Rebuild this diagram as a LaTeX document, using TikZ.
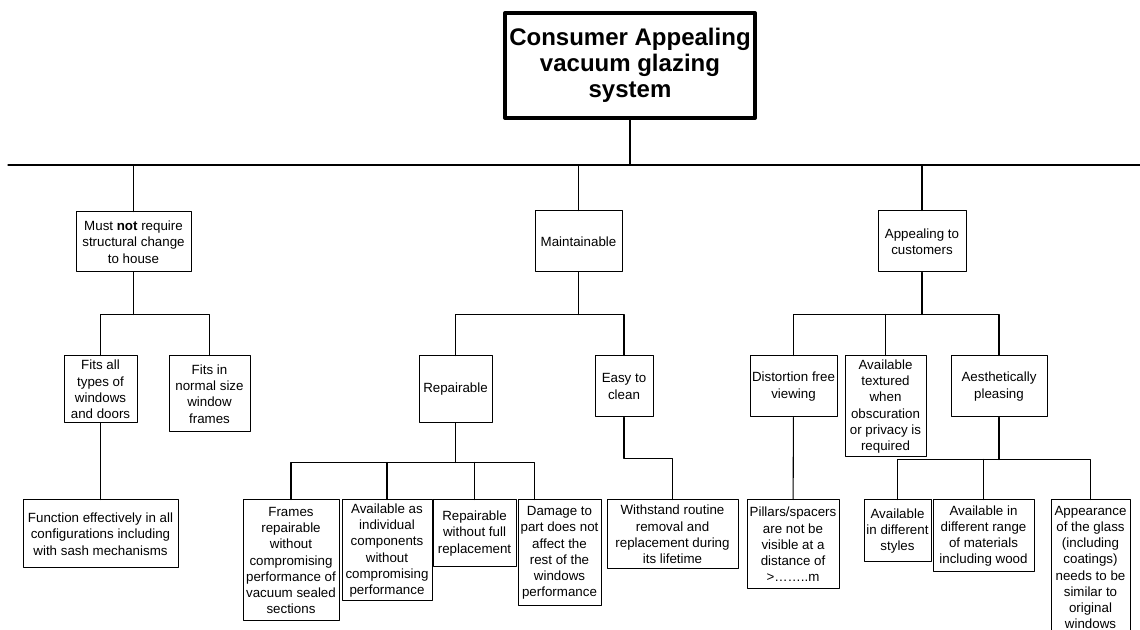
\documentclass[tikz,border=0pt]{standalone}
\usepackage{fontspec}
\setmainfont{Liberation Sans}
\begin{document}
\begin{tikzpicture}[x=0.75pt, y=-0.75pt, font=\fontsize{10}{12.2}\selectfont, line join=round, line cap=round,
	box/.style={draw, line width=0.75pt, align=center, inner sep=0pt},
	goal/.style={draw, line width=3pt, align=center, inner sep=0pt, font=\fontsize{18}{19.6}\selectfont\bfseries},
	link/.style={line width=0.8pt}]
	\useasboundingbox (0,0) rectangle (1140,630);
	% top of the tree
	\node[goal, minimum width=187.5pt, minimum height=78.75pt] (top) at (630,65.5) {Consumer Appealing\\vacuum glazing\\system};
	\coordinate (busL) at (8,165);
	\coordinate (busR) at (1140,165);
	% first level
	\node[box, minimum width=86.25pt, minimum height=45pt] (house) at (133.5,242) {Must \textbf{not} require\\structural change\\to house};
	\node[box, minimum width=65.25pt, minimum height=45.75pt] (maint) at (578.5,241.5) {Maintainable};
	\node[box, minimum width=66pt, minimum height=45.75pt] (appeal) at (922,241.5) {Appealing to\\customers};
	% second level
	\node[box, minimum width=54.75pt, minimum height=50.25pt] (fitall) at (100.5,389.5) {Fits all\\types of\\windows\\and doors};
	\node[box, minimum width=60.75pt, minimum height=57pt] (fitsize) at (209.5,394) {Fits in\\normal size\\window\\frames};
	\node[box, minimum width=54.75pt, minimum height=50.25pt] (repair) at (455.5,389.5) {Repairable};
	\node[box, minimum width=43.5pt, minimum height=45.75pt] (clean) at (624,386.5) {Easy to\\clean};
	\node[box, minimum width=65.25pt, minimum height=45.75pt] (distort) at (793.5,386.5) {Distortion free\\viewing};
	\node[box, minimum width=60.75pt, minimum height=75.75pt] (texture) at (885.5,406.5) {Available\\textured\\when\\obscuration\\or privacy is\\required};
	\node[box, minimum width=72pt, minimum height=45.75pt] (pleasing) at (999,386.5) {Aesthetically\\pleasing};
	% third level
	\node[box, minimum width=116.25pt, minimum height=51pt] (config) at (100.5,534) {Function effectively in all\\configurations including\\with sash mechanisms};
	\node[box, minimum width=72pt, minimum height=90.75pt] (frames) at (291,560.5) {Frames\\repairable\\without\\compromising\\performance of\\vacuum sealed\\sections};
	\node[box, minimum width=67.5pt, minimum height=75.75pt] (parts) at (387,550.5) {Available as\\individual\\components\\without\\compromising\\performance};
	\node[box, minimum width=62.25pt, minimum height=50.25pt] (nofull) at (474.5,533.5) {Repairable\\without full\\replacement};
	\node[box, minimum width=62.25pt, minimum height=79.5pt] (damage) at (559.5,553) {Damage to\\part does not\\affect the\\rest of the\\windows\\performance};
	\node[box, minimum width=98.25pt, minimum height=51.75pt] (routine) at (672.5,534.5) {Withstand routine\\removal and\\replacement during\\its lifetime};
	\node[box, minimum width=69pt, minimum height=66.75pt] (pillars) at (793,544.5) {Pillars/spacers\\are not be\\visible at a\\distance of\\>……..m};
	\node[box, minimum width=50.25pt, minimum height=46.5pt] (styles) at (897.5,531) {Available\\in different\\styles};
	\node[box, minimum width=75.75pt, minimum height=54pt] (material) at (983.5,536) {Available in\\different range\\of materials\\including wood};
	\node[box, minimum width=59.25pt, minimum height=101.25pt] (glass) at (1090.5,567.5) {Appearance\\of the glass\\(including\\coatings)\\needs to be\\similar to\\original\\windows};
	% connectors
	\draw[link] (busL) -- (busR);
	\draw[link] (top) -- (top |- busL);
	\draw[link] (house) -- (house |- busL);
	\draw[link] (maint) -- (maint |- busL);
	\draw[link] (appeal) -- (appeal |- busL);
	\draw[link] (house.south) -- ++(0,42) coordinate (houseBus);
	\draw[link] (fitall) |- (houseBus) -| (fitsize);
	\draw[link] (fitall) -- (config);
	\draw[link] (maint.south) -- ++(0,42) coordinate (maintBus);
	\draw[link] (repair) |- (maintBus) -| (clean);
	\draw[link] (repair.south) -- ++(0,39) coordinate (repairBus);
	\draw[link] (frames) |- (repairBus) -| ([xshift=-19pt]damage.north);
	\draw[link] (parts) -- (parts |- repairBus);
	\draw[link] (nofull) -- (nofull |- repairBus);
	\draw[link] (clean.south) -- ++(0,41) -| (routine);
	\draw[link] (appeal.south) -- ++(0,42) coordinate (appealBus);
	\draw[link] (distort) |- (appealBus) -| (pleasing);
	\draw[link] (texture) -- (texture |- appealBus);
	\draw[link] (distort) -- (pillars);
	\draw[link] (pleasing.south) -- ++(0,42) coordinate (pleasingBus);
	\draw[link] (styles) |- (pleasingBus) -| (glass);
	\draw[link] (material) -- (material |- pleasingBus);
\end{tikzpicture}
\end{document}
